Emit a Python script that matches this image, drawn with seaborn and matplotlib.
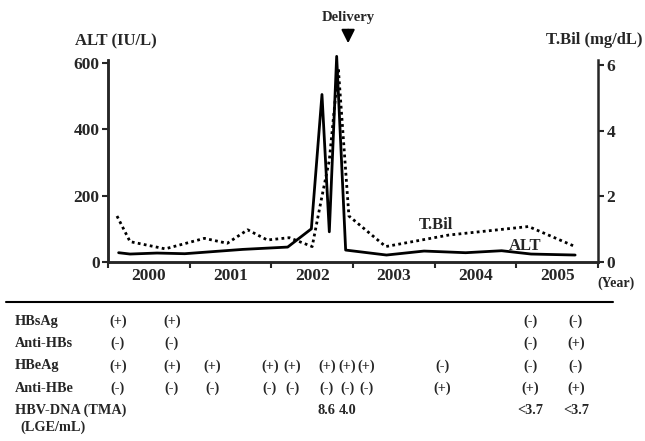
import numpy as np
import pandas as pd
import seaborn as sns
import matplotlib.pyplot as plt
import matplotlib.transforms as mtransforms
from matplotlib.lines import Line2D

# ALT (solid line)
alt_years = [2000.13, 2000.27, 2000.60, 2000.94, 2001.65, 2002.20, 2002.49, 2002.62,
             2002.71, 2002.80, 2002.91, 2003.41, 2003.87, 2004.38, 2004.82, 2005.18, 2005.72]
alt_values = [28, 24, 27, 25, 38, 45, 100, 505, 91, 620, 36, 21, 33, 28, 34, 24, 21]

# T.Bil (dotted line)
tbil_years = [2000.11, 2000.27, 2000.70, 2001.18, 2001.46, 2001.71, 2001.95, 2002.22,
              2002.50, 2002.62, 2002.71, 2002.82, 2002.95, 2003.40, 2004.17, 2005.15, 2005.72]
tbil_values = [1.40, 0.62, 0.40, 0.72, 0.57, 0.98, 0.67, 0.74,
               0.47, 2.0, 3.1, 5.9, 1.40, 0.47, 0.82, 1.08, 0.47]

year_labels = ["2000", "2001", "2002", "2003", "2004", "2005"]
delivery_year = 2002.94

# serology table
row_labels = ["HBsAg", "Anti-HBs", "HBeAg", "Anti-HBe", "HBV-DNA (TMA)"]
test_dates = [2000.12, 2000.78, 2001.28, 2001.98, 2002.26, 2002.68, 2002.93, 2003.16,
              2004.09, 2005.17, 2005.73]
hbsag = ["(+)", "(+)", "", "", "", "", "", "", "", "(-)", "(-)"]
anti_hbs = ["(-)", "(-)", "", "", "", "", "", "", "", "(-)", "(+)"]
hbeag = ["(+)", "(+)", "(+)", "(+)", "(+)", "(+)", "(+)", "(+)", "(-)", "(-)", "(-)"]
anti_hbe = ["(-)", "(-)", "(-)", "(-)", "(-)", "(-)", "(-)", "(-)", "(+)", "(+)", "(+)"]
hbv_dna = ["", "", "", "", "", "8.6", "4.0", "", "", "<3.7", "<3.7"]

alt_df = pd.DataFrame({"year": alt_years, "ALT": alt_values})
tbil_df = pd.DataFrame({"year": tbil_years, "TBil": tbil_values})

sns.set_style("ticks")
plt.rcParams["font.family"] = ["Liberation Serif", "DejaVu Serif"]
plt.rcParams["font.weight"] = "bold"

fig = plt.figure(figsize=(6.45, 4.41), dpi=100)
W, H = 645, 441
ax = fig.add_axes([108 / W, 1 - 262 / H, (598 - 108) / W, (262 - 60) / H])

sns.lineplot(data=alt_df, x="year", y="ALT", ax=ax, color="black", lw=2, clip_on=False)
ax.set_xlim(2000, 2006)
ax.set_ylim(0, 609)
ax.set_yticks([0, 200, 400, 600])
ax.set_xticks(range(2000, 2007))
ax.set_xticklabels([])
ax.set_xticks([y + 0.5 for y in range(2000, 2006)], minor=True)
ax.set_xticklabels(year_labels, minor=True)
ax.tick_params(axis="x", which="minor", length=0, labelsize=12.5, pad=4)
ax.tick_params(axis="x", which="major", length=4, width=1.5)
ax.tick_params(axis="y", length=4, width=1.5, labelsize=12.5, pad=2)
ax.set_xlabel("")
ax.set_ylabel("")
for lab in ax.get_xticklabels(minor=True) + ax.get_yticklabels():
    lab.set_fontweight("bold")

ax2 = ax.twinx()
sns.lineplot(data=tbil_df, x="year", y="TBil", ax=ax2, color="black", lw=2, linestyle=(0, (1, 1.2)))
ax2.set_ylim(0, 6.15)
ax2.set_yticks([0, 2, 4, 6])
ax2.tick_params(axis="y", length=4, width=1.5, labelsize=12.5, pad=2)
ax2.set_ylabel("")
for lab in ax2.get_yticklabels():
    lab.set_fontweight("bold")

for a in (ax, ax2):
    a.spines["top"].set_visible(False)
    for s in ("left", "right", "bottom"):
        a.spines[s].set_linewidth(1.8)
ax.spines["right"].set_visible(False)

# in-plot labels
ax.text(2004.02, 111, "T.Bil", fontsize=12, fontweight="bold", ha="center", va="center")
ax.text(2005.11, 47, "ALT", fontsize=12, fontweight="bold", ha="center", va="center")

# axis titles
fig.text(116 / W, 1 - 41 / H, "ALT (IU/L)", fontsize=12, fontweight="bold", ha="center", va="center")
fig.text(594 / W, 1 - 40 / H, "T.Bil (mg/dL)", fontsize=12, fontweight="bold", ha="center", va="center")
fig.text(616 / W, 1 - 283 / H, "(Year)", fontsize=10, fontweight="bold", ha="center", va="center")

# delivery arrow
ax.annotate("", xy=(delivery_year, 1 - 46 / H), xytext=(delivery_year, 1 - 27 / H),
            xycoords=("data", "figure fraction"), textcoords=("data", "figure fraction"),
            arrowprops=dict(arrowstyle="-|>,head_length=0.8,head_width=0.4", color="black", lw=1.5),
            annotation_clip=False)
ax.annotate("Delivery", xy=(delivery_year, 1 - 18 / H), xycoords=("data", "figure fraction"),
            fontsize=10.5, fontweight="bold", ha="center", va="center", annotation_clip=False)

# separator line
fig.add_artist(Line2D([6 / W, 613 / W], [1 - 301.5 / H] * 2, color="black", lw=1.5))

# table
trans = mtransforms.blended_transform_factory(ax.transData, fig.transFigure)
row_y = [321.7, 343.5, 366, 388, 410]
rows = [hbsag, anti_hbs, hbeag, anti_hbe, hbv_dna]
for label, py, vals in zip(row_labels, row_y, rows):
    fig.text(15 / W, 1 - py / H, label, fontsize=10.3, fontweight="bold", ha="left", va="center")
    for d, v in zip(test_dates, vals):
        if v:
            ax.text(d, 1 - py / H, v, transform=trans, fontsize=10.3, fontweight="bold",
                    ha="center", va="center", clip_on=False)
fig.text(20 / W, 1 - 427 / H, "(LGE/mL)", fontsize=10.3, fontweight="bold", ha="left", va="center")

fig.savefig("out.png", dpi=100)
